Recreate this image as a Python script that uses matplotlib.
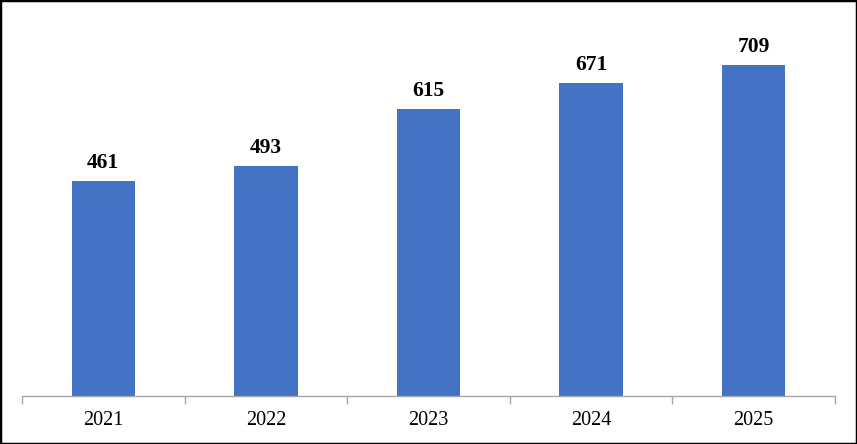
import matplotlib
matplotlib.use("Agg")
import matplotlib.pyplot as plt
from matplotlib.patches import Rectangle

years = ["2021", "2022", "2023", "2024", "2025"]
values = [461, 493, 615, 671, 709]

W, H = 857, 444
fig = plt.figure(figsize=(W / 100, H / 100), dpi=100)
plt.rcParams['font.family'] = ['Liberation Serif', 'DejaVu Serif']

left, right, bottom, top = 22, 835, 396, 23
ax = fig.add_axes([left / W, (H - bottom) / H, (right - left) / W, (bottom - top) / H])

x = list(range(len(years)))
ax.bar(x, values, width=0.39, color="#4472C4", zorder=2)
ax.set_xlim(-0.5, len(years) - 0.5)
ax.set_ylim(0, 800)

for xi, v in zip(x, values):
    ax.annotate(str(v), (xi, v), xytext=(0, 6), textcoords="offset points",
                ha="center", va="bottom", fontsize=15.5, fontweight="bold")

for s in ["top", "right", "left"]:
    ax.spines[s].set_visible(False)
ax.spines["bottom"].set_color("#A6A6A6")
ax.spines["bottom"].set_linewidth(1.0)
ax.set_yticks([])
ax.set_xticks(x)
ax.set_xticklabels(years, fontsize=14.5)
ax.tick_params(axis="x", length=0, pad=11)
ax.set_xticks([i - 0.5 for i in range(len(years) + 1)], minor=True)
ax.tick_params(axis="x", which="minor", length=6, color="#A6A6A6", width=1.0)

fig.add_artist(Rectangle((0, 0), 1, 1, transform=fig.transFigure, fill=False,
                         edgecolor="black", linewidth=2.5))

fig.savefig("out.png", dpi=100)
